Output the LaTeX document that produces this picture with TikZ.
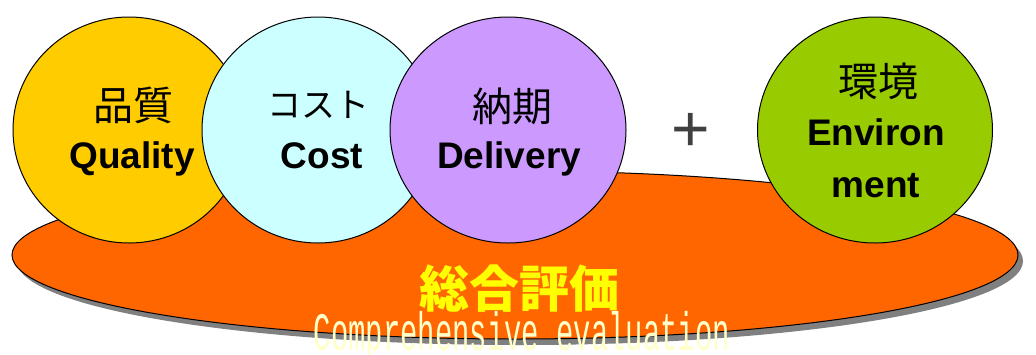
\documentclass[tikz,border=0pt]{standalone}
\usepackage{fontspec}
\usetikzlibrary{shapes.geometric}
\setmainfont{Liberation Sans}
\newfontfamily\cjk{Noto Sans CJK JP}
\newfontfamily\monofam{Liberation Mono}
\definecolor{qyellow}{HTML}{FFCC00}
\definecolor{ccyan}{HTML}{CCFFFF}
\definecolor{dpurple}{HTML}{CC99FF}
\definecolor{egreen}{HTML}{99CC00}
\definecolor{evalorange}{HTML}{FF6600}
\definecolor{shadowgray}{HTML}{808080}
\definecolor{evalyellow}{HTML}{FFFF00}
\definecolor{cream}{HTML}{FFFFCC}
\definecolor{plusgray}{HTML}{404040}
\begin{document}
\begin{tikzpicture}[x=1pt,y=-1pt,
  blob/.style={ellipse, draw=black, line width=1pt, inner sep=0pt},
  en/.style={font=\fontsize{37}{40}\selectfont\bfseries, anchor=base, inner sep=0pt},
  jp/.style={font=\cjk\fontsize{40}{44}\selectfont, inner sep=0pt},
]
\useasboundingbox (0,0) rectangle (1036,354);
\fill[white] (0,0) rectangle (1036,354);
\node[ellipse, fill=shadowgray, minimum width=1006pt, minimum height=168pt, inner sep=0pt] (shadow) at (520,261) {};
\node[blob, fill=evalorange, minimum width=1006pt, minimum height=168pt] (base) at (515,255) {};
\node[blob, fill=qyellow, minimum width=232pt, minimum height=226pt] (q) at (129,130) {};
\node[blob, fill=ccyan, minimum width=232pt, minimum height=226pt] (c) at (318,130) {};
\node[blob, fill=dpurple, minimum width=236pt, minimum height=226pt] (d) at (508,130) {};
\node[blob, fill=egreen, minimum width=235pt, minimum height=226pt] (e) at (875,130) {};
\node[jp] (qjp) at (133,105) {品質};
\node[en] (qen) at (132,168) {Quality};
\node[jp, font=\cjk\fontsize{34}{38}\selectfont] (cjp) at (318,105) {コスト};
\node[en] (cen) at (322,168) {Cost};
\node[jp] (djp) at (512,106) {納期};
\node[en] (den) at (509,168) {Delivery};
\node[jp] (ejp) at (878,81) {環境};
\node[en] (een1) at (876,145) {Environ};
\node[en] (een2) at (876,197) {ment};
\node[font=\fontsize{66}{70}\selectfont, text=plusgray, inner sep=0pt] (plus) at (691,132) {+};
\node[font=\cjk\bfseries\fontsize{50}{54}\selectfont, text=evalyellow, inner sep=0pt] (evjp) at (519,289) {総合評価};
\node[font=\monofam\fontsize{54}{58}\selectfont, text=cream, anchor=base, inner sep=0pt] (even) at (522,350) {\scalebox{0.535}[1]{Comprehensive evaluation}};
\end{tikzpicture}
\end{document}
